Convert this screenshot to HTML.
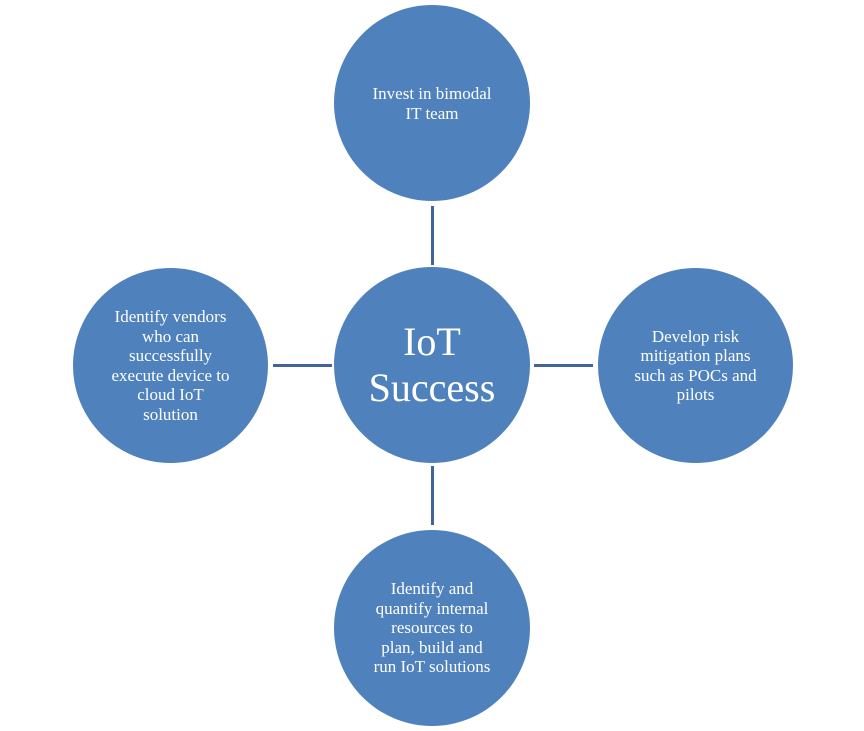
<!DOCTYPE html>
<html><head><style>
body{margin:0;width:864px;height:731px;background:#fff;position:relative;overflow:hidden;font-family:"Liberation Serif",serif;}
.c{position:absolute;border-radius:50%;background:#4f81bd;color:#fff;display:flex;align-items:center;justify-content:center;text-align:center;font-size:17px;line-height:19.5px;}
.l{position:absolute;background:#3f6696;}
</style></head><body>
<div class="l" style="left:431px;top:206px;width:3px;height:59px"></div>
<div class="l" style="left:431px;top:466px;width:3px;height:59px"></div>
<div class="l" style="left:273px;top:364px;width:59px;height:3px"></div>
<div class="l" style="left:534px;top:364px;width:59px;height:3px"></div>
<div class="c" style="left:334px;top:5px;width:196px;height:196px"><div style="margin-top:1px">Invest in bimodal<br>IT team</div></div>
<div class="c" style="left:334px;top:267px;width:196px;height:196px;font-size:40px;line-height:46px"><div>IoT<br>Success</div></div>
<div class="c" style="left:73px;top:268px;width:195px;height:195px"><div>Identify vendors<br>who can<br>successfully<br>execute device to<br>cloud IoT<br>solution</div></div>
<div class="c" style="left:598px;top:268px;width:195px;height:195px"><div>Develop risk<br>mitigation plans<br>such as POCs and<br>pilots</div></div>
<div class="c" style="left:334px;top:530px;width:196px;height:196px"><div>Identify and<br>quantify internal<br>resources to<br>plan, build and<br>run IoT solutions</div></div>
</body></html>
